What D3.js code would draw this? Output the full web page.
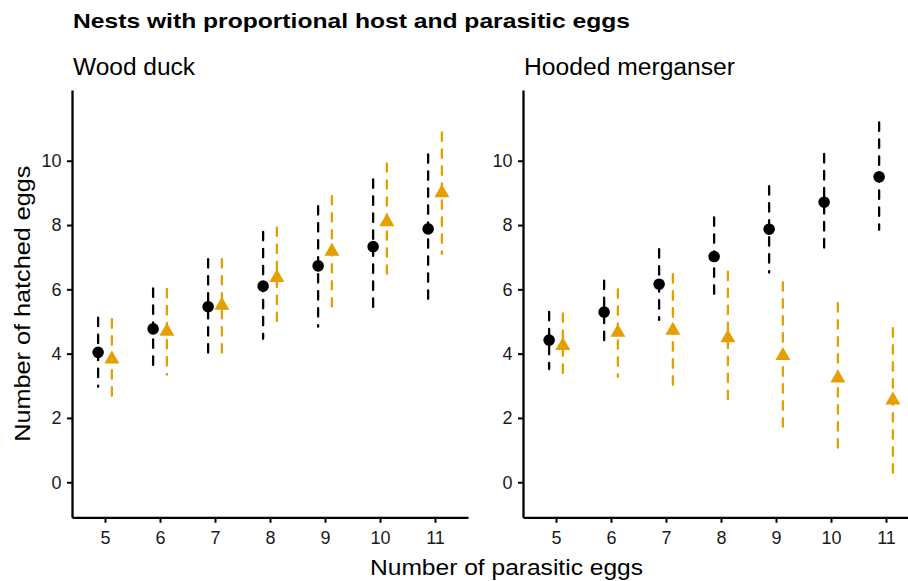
<!DOCTYPE html>
<html>
<head>
<meta charset="utf-8">
<script src="https://cdn.jsdelivr.net/npm/d3@7"></script>
<style>
  body { margin: 0; background: #fff; }
  svg { display: block; font-family: "Liberation Sans", Arial, sans-serif; }
</style>
</head>
<body>
<svg id="chart" width="908" height="581"></svg>
<script>
// number of parasitic eggs (x categories)
const parasiticEggs = [5, 6, 7, 8, 9, 10, 11];
const yTicks = [0, 2, 4, 6, 8, 10];

// Wood duck: host (black circles) and parasitic (orange triangles)
const woodHostMean = [4.04, 4.77, 5.46, 6.10, 6.73, 7.33, 7.88];
const woodHostLow  = [2.97, 3.49, 4.01, 4.46, 4.84, 5.23, 5.57];
const woodHostHigh = [5.12, 6.03, 6.94, 7.79, 8.59, 9.42, 10.20];
const woodParaMean = [3.83, 4.69, 5.50, 6.36, 7.18, 8.10, 9.00];
const woodParaLow  = [2.59, 3.34, 4.03, 4.79, 5.44, 6.27, 7.10];
const woodParaHigh = [5.07, 6.01, 6.94, 7.92, 8.90, 9.92, 10.88];

// Hooded merganser
const hoodHostMean = [4.42, 5.29, 6.16, 7.02, 7.87, 8.71, 9.50];
const hoodHostLow  = [3.52, 4.29, 5.05, 5.80, 6.52, 7.20, 7.85];
const hoodHostHigh = [5.30, 6.27, 7.25, 8.24, 9.21, 10.21, 11.19];
const hoodParaMean = [4.25, 4.66, 4.72, 4.49, 3.94, 3.24, 2.55];
const hoodParaLow  = [3.21, 3.28, 2.95, 2.40, 1.63, 0.90, 0.28];
const hoodParaHigh = [5.25, 6.00, 6.47, 6.55, 6.22, 5.57, 4.79];

const panels = [
  { name: "Wood duck", left: 72, host: [woodHostMean, woodHostLow, woodHostHigh], para: [woodParaMean, woodParaLow, woodParaHigh], titleLen: 122 },
  { name: "Hooded merganser", left: 523, host: [hoodHostMean, hoodHostLow, hoodHostHigh], para: [hoodParaMean, hoodParaLow, hoodParaHigh], titleLen: 211 }
];

const orange = "#E69F00";
const panelWidth = 396;
const plotTop = 90, plotBottom = 517.3;
const dodge = 0.125;

const svg = d3.select("#chart");

const y = d3.scaleLinear().domain([-1.09, 12.2]).range([plotBottom, plotTop]);

svg.append("text")
  .attr("x", 73).attr("y", 28)
  .attr("font-size", 21).attr("font-weight", "bold")
  .attr("textLength", 557).attr("lengthAdjust", "spacingAndGlyphs")
  .text("Nests with proportional host and parasitic eggs");

panels.forEach(p => {
  const x = d3.scaleLinear().domain([4.4, 11.6]).range([p.left, p.left + panelWidth]);
  const g = svg.append("g");

  // strip title
  g.append("text")
    .attr("x", p.left + 1).attr("y", 75)
    .attr("font-size", 23)
    .attr("textLength", p.titleLen).attr("lengthAdjust", "spacingAndGlyphs")
    .text(p.name);

  // axes
  const yAxis = g.append("g")
    .attr("transform", `translate(${p.left},0)`)
    .call(d3.axisLeft(y).tickValues(yTicks).tickSize(5).tickSizeOuter(0).tickPadding(5.5));
  const xAxis = g.append("g")
    .attr("transform", `translate(0,${plotBottom})`)
    .call(d3.axisBottom(x).tickValues(parasiticEggs).tickSize(5.5).tickSizeOuter(0).tickPadding(8));
  [yAxis, xAxis].forEach(a => {
    a.select(".domain").attr("stroke", "#000").attr("stroke-width", 2.3);
    a.selectAll(".tick line").attr("stroke", "#000").attr("stroke-width", 2);
    a.selectAll(".tick text").attr("font-size", 18).attr("fill", "#1a1a1a")
      .attr("font-family", "Liberation Sans, Arial, sans-serif");
  });

  const series = [
    { vals: p.host, off: -dodge, color: "#000", shape: "circle" },
    { vals: p.para, off: dodge, color: orange, shape: "triangle" }
  ];

  series.forEach(s => {
    const rows = parasiticEggs.map((e, i) => ({ e, mean: s.vals[0][i], lo: s.vals[1][i], hi: s.vals[2][i] }));

    // dashed error bars, drawn from top to bottom
    g.append("g").selectAll("line")
      .data(rows)
      .join("line")
      .attr("x1", d => x(d.e + s.off))
      .attr("x2", d => x(d.e + s.off))
      .attr("y1", d => y(d.hi))
      .attr("y2", d => y(d.lo))
      .attr("stroke", s.color)
      .attr("stroke-width", 2.3)
      .attr("stroke-dasharray", "8.5 8.5")
      .attr("stroke-linecap", "round");
  });

  series.forEach(s => {
    const rows = parasiticEggs.map((e, i) => ({ e, mean: s.vals[0][i] }));
    const sym = s.shape === "circle"
      ? d3.symbol(d3.symbolCircle, Math.PI * 5.8 * 5.8)
      : () => "M0,-8.7L7.5,4.35L-7.5,4.35Z";
    g.append("g").selectAll("path")
      .data(rows)
      .join("path")
      .attr("transform", d => `translate(${x(d.e + s.off)},${y(d.mean)})`)
      .attr("d", sym)
      .attr("fill", s.color);
  });
});

// axis titles
svg.append("text")
  .attr("x", 370).attr("y", 575)
  .attr("font-size", 22)
  .attr("textLength", 273).attr("lengthAdjust", "spacingAndGlyphs")
  .text("Number of parasitic eggs");

svg.append("text")
  .attr("transform", `translate(30,${(plotTop + plotBottom) / 2}) rotate(-90)`)
  .attr("text-anchor", "middle")
  .attr("font-size", 22)
  .attr("textLength", 276).attr("lengthAdjust", "spacingAndGlyphs")
  .text("Number of hatched eggs");
</script>
</body>
</html>
